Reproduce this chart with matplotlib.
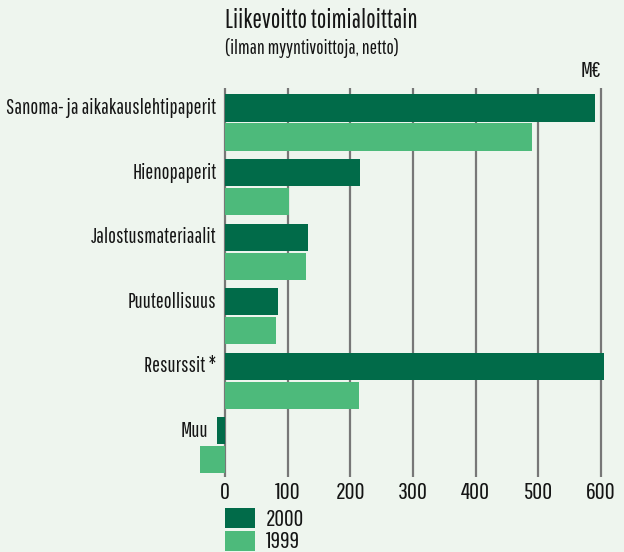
import matplotlib
matplotlib.use("Agg")
import matplotlib.pyplot as plt
from matplotlib.patches import Rectangle
import numpy as np

# data (M€)
categories = ["Sanoma- ja aikakauslehtipaperit", "Hienopaperit", "Jalostusmateriaalit",
              "Puuteollisuus", "Resurssit *", "Muu"]
values_2000 = [590, 216, 133, 84, 605, -13]
values_1999 = [490, 102, 130, 81, 214, -40]
ticks = [0, 100, 200, 300, 400, 500, 600]

DARK = "#016b49"
LIGHT = "#4dba7b"
BG = "#eef5ee"
FONT = ["Pathway Gothic One", "DejaVu Sans"]
INK = "#151515"

fig = plt.figure(figsize=(6.24, 5.52), dpi=100, facecolor=BG)
ax = fig.add_axes([0.3202, 0.1359, 0.6734, 0.7047])
ax.set_facecolor("none")

y = np.arange(len(categories))
off = 0.225
h = 0.42
ax.barh(y - off, values_2000, height=h, color=DARK, zorder=3)
ax.barh(y + off, values_1999, height=h, color=LIGHT, zorder=3)

for t in ticks:
    ax.axvline(t, color="#777777", lw=1.6, zorder=1)

ax.set_xlim(-40, 630)
ax.set_ylim(5.49, -0.534)
for s in ax.spines.values():
    s.set_visible(False)
ax.set_yticks([])
ax.set_xticks([])

# category labels, left of the bar start
for i, (c, v) in enumerate(zip(categories, values_2000)):
    ax.annotate(c, xy=(min(0, v), i - off), xytext=(-6, 0), textcoords="offset points",
                ha="right", va="center", fontsize=15, family=FONT, color=INK)

# tick labels below
for t in ticks:
    ax.annotate(str(t), xy=(t, 5.49), xytext=(0, -11), textcoords="offset points",
                ha="center", va="center", fontsize=17.5, family=FONT, color=INK,
                annotation_clip=False)

fig.text(225 / 624, 1 - 21 / 552, "Liikevoitto toimialoittain", ha="left", va="center",
         fontsize=18.4, family=FONT, color=INK)
fig.text(225 / 624, 1 - 48 / 552, "(ilman myyntivoittoja, netto)", ha="left", va="center",
         fontsize=14.2, family=FONT, color=INK)
fig.text(601 / 624, 1 - 71 / 552, "M€", ha="right", va="center",
         fontsize=16, family=FONT, style="italic", color=INK)

# legend
for k, (lab, col) in enumerate([("2000", DARK), ("1999", LIGHT)]):
    y0 = 1 - (528 + k * 23) / 552
    fig.patches.append(Rectangle((225 / 624, y0), 30 / 624, 20 / 552, transform=fig.transFigure,
                                 facecolor=col, edgecolor="none"))
    fig.text(266 / 624, y0 + 9 / 552, lab, ha="left", va="center",
             fontsize=17, family=FONT, color=INK)

fig.savefig("out.png", dpi=100, facecolor=BG)
